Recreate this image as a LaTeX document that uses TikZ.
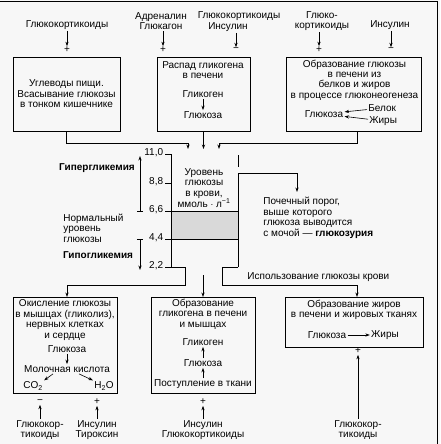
\documentclass[tikz,border=0pt]{standalone}
\usepackage{fontspec}
\setmainfont{Liberation Sans}
\usetikzlibrary{arrows.meta}

\tikzset{
  txt/.style={font=\fontsize{10}{10.4}\selectfont, inner sep=1pt, align=center},
  bold/.style={txt, font=\fontsize{10}{10.4}\selectfont\bfseries},
  box/.style={draw, inner sep=0pt},
  sign/.style={font=\fontsize{10}{10.4}\selectfont, inner sep=0.5pt},
}

\begin{document}
\begin{tikzpicture}[x=1pt, y=-1pt, >={Stealth[length=4.5pt, width=3.2pt]}, line width=0.8pt]
  \fill[black!3] (0,0) rectangle (440,444);
  \useasboundingbox (0,0) rectangle (440,444);
  \draw (0,1) -- (437,1) -- (437,444);

  \node[txt] (h1) at (67,25) {Глюкокортикоиды};
  \node[txt] (h2) at (161,21) {Адреналин\\Глюкагон};
  \node[txt] (h3) at (239,16) {Глюкокортикоиды};
  \node[txt] (h3b) at (228,27) {Инсулин};
  \node[txt] (h4) at (322,21) {Глюко-\\кортикоиды};
  \node[txt] (h5) at (390,25) {Инсулин};
  \node[sign] (s1) at (67,50) {+};
  \node[sign] (s2) at (163,50) {+};
  \node[sign] (s3) at (236,50) {−};
  \node[sign] (s4) at (319,50) {+};
  \node[sign] (s5) at (391,50) {−};
  \draw[->] (h1) -- (s1);
  \draw[->] (s2 |- h2.south) -- (s2);
  \draw[->] (s3 |- h3b.south) -- (s3);
  \draw[->] (s4 |- h4.south) -- (s4);
  \draw[->] (s5 |- h5.south) -- (s5);

  \node[box, txt, minimum width=107pt, minimum height=74pt] (food) at (66.5,94)
    {Углеводы пищи.\\Всасывание глюкозы\\в тонком кишечнике};

  \node[box, minimum width=93pt, minimum height=74pt] (split) at (203.5,94) {};
  \node[txt] (split-t) at (203,70) {Распад гликогена\\в печени};
  \node[txt] (split-g) at (203,94) {Гликоген};
  \node[txt] (split-c) at (203,115) {Глюкоза};
  \draw[->, line width=0.6pt] (split-g) -- (split-c);

  \node[box, minimum width=135pt, minimum height=74pt] (gng) at (353.5,94) {};
  \node[txt] (gng-t) at (354.5,80) {Образование глюкозы\\в печени из\\белков и жиров\\в процессе глюконеогенеза};
  \node[txt] (gng-c) at (324,114) {Глюкоза};
  \node[txt, anchor=west] (gng-p) at (367,108) {Белок};
  \node[txt, anchor=west] (gng-f) at (368,121) {Жиры};
  \draw[->, line width=0.6pt] (gng-p) -- (gng-c);
  \draw[->, line width=0.6pt] (gng-f) -- (gng-c);

  \coordinate (in1) at (188,149);
  \coordinate (in2) at (203.5,149);
  \coordinate (in3) at (219,149);
  \draw[->] (food.south) -- ++(0,12) -| (in1);
  \draw[->] (split.south) -- (in2);
  \draw[->] ([xshift=3.5pt]gng.south) -- ++(0,12) -| (in3);

  \fill[gray!30] (171,211) rectangle (238,239);
  \draw (171,211) -- (238,211) (171,239) -- (238,239);
  \draw (238,155) -- (238,167);
  \draw[->] (238,267) -- (238,173) -- (297,173) -- (297,192);
  \draw[->] (171,154) -- (171,267) -- (185,267) -- (185,285) -| (67,297);
  \draw[->] (238,267) -- (222,267) -- (222,285) -| (357,297);
  \draw[->] (203,275) -- (203,297);
  \foreach \y/\v in {154/{11,0}, 183/{8,8}, 211/{6,6}, 239/{4,4}, 267/{2,2}} {
    \draw (165,\y) -- (171,\y);
    \node[txt, anchor=east] (tick\y) at (164.5,\y-1) {\v};
  }
  \node[txt] (level) at (204,188) {Уровень\\глюкозы\\в крови,\\ммоль $\cdot$ л\textsuperscript{−1}};

  \node[bold] (hyper) at (97,168) {Гипергликемия};
  \draw[|->] (140,212) -- (140,156);
  \node[txt, align=left, anchor=west] (norm) at (62,228) {Нормальный\\уровень\\глюкозы};
  \node[bold] (hypo) at (98,255) {Гипогликемия};
  \draw[|->] (140,239) -- (140,270);

  \node[txt, align=left, anchor=north west] (kidney) at (262,196)
    {Почечный порог,\\выше которого\\глюкоза выводится\\с мочой — \textbf{глюкозурия}};
  \node[txt, anchor=west] (use) at (246,277) {Использование глюкозы крови};

  \node[box, minimum width=104pt, minimum height=96pt] (oxid) at (65,345) {};
  \node[txt] (ox-t) at (65,320) {Окисление глюкозы\\в мышцах (гликолиз),\\нервных клетках\\и сердце};
  \node[txt] (ox-g) at (67,349) {Глюкоза};
  \node[txt] (ox-m) at (67,369) {Молочная кислота};
  \node[txt] (ox-c) at (33,386) {CO\textsubscript{2}};
  \node[txt] (ox-w) at (104,386) {H\textsubscript{2}O};
  \draw[->, line width=0.6pt] (ox-g) -- (ox-m);
  \draw[->, line width=0.6pt] ([xshift=-14pt]ox-m.south) -- (ox-c.north east);
  \draw[->, line width=0.6pt] ([xshift=12pt]ox-m.south) -- (ox-w.north west);

  \node[box, minimum width=104pt, minimum height=96pt] (glyc) at (203,345) {};
  \node[txt] (gl-t) at (203,314) {Образование\\гликогена в печени\\и мышцах};
  \node[txt] (gl-g) at (203,342) {Гликоген};
  \node[txt] (gl-c) at (203,363) {Глюкоза};
  \node[txt] (gl-i) at (203,384) {Поступление в ткани};
  \draw[->, line width=0.6pt] (gl-i) -- (gl-c);
  \draw[->, line width=0.6pt] (gl-c) -- (gl-g);

  \node[box, minimum width=138pt, minimum height=50pt] (fat) at (354,322) {};
  \node[txt] (fat-t) at (354,310) {Образование жиров\\в печени и жировых тканях};
  \node[txt] (fat-c) at (327,335) {Глюкоза};
  \node[txt] (fat-f) at (385,335) {Жиры};
  \draw[->, line width=0.6pt] (fat-c) -- (fat-f);

  \node[sign] (m1) at (40,402) {−};
  \node[sign] (m2) at (97,402) {+};
  \node[sign] (m3) at (203,402) {+};
  \node[sign] (m4) at (358,351) {+};
  \node[txt] (r1) at (40,430) {Глюкокор-\\тикоиды};
  \node[txt] (r2) at (97,430) {Инсулин\\Тироксин};
  \node[txt] (r3) at (203,430) {Инсулин\\Глюкокортикоиды};
  \node[txt] (r4) at (358,430) {Глюкокор-\\тикоиды};
  \draw[->] (r1) -- (m1);
  \draw[->] (r2) -- (m2);
  \draw[->] (r3) -- (m3);
  \draw[->] (r4) -- (m4);
\end{tikzpicture}
\end{document}
